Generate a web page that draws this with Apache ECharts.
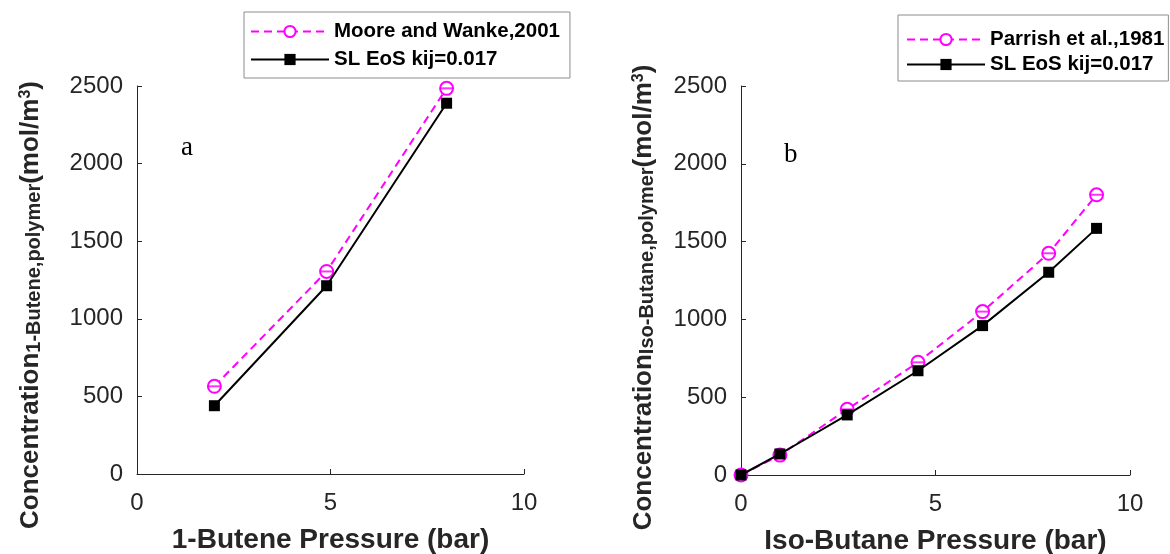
<!DOCTYPE html>
<html><head><meta charset="utf-8">
<script src="https://cdn.jsdelivr.net/npm/echarts@6/dist/echarts.min.js"></script>
<style>html,body{margin:0;padding:0;background:#fff}#c{width:1170px;height:554px}</style>
</head><body><div id="c"></div>
<script>
// ---- data ----
const butenePressure = [2, 4.9, 8];
const buteneExp = [565, 1305, 2485];
const buteneSL = [440, 1213, 2389];
const isoPressure = [0, 1, 2.73, 4.55, 6.21, 7.91, 9.14];
const isoExp = [0, 128, 422, 724, 1050, 1425, 1801];
const isoSL = [0, 135, 386, 670, 960, 1303, 1585];
const xTickValues = [0, 5, 10];
const yTickValues = [0, 500, 1000, 1500, 2000, 2500];
const expNameA = 'Moore and Wanke,2001';
const expNameB = 'Parrish et al.,1981';
const slName = 'SL EoS kij=0.017';

const pairs = (xs, ys) => xs.map((x, i) => [x, ys[i]]);
const AX = '#262626', MAG = '#ff00ff';
const FONT = 'Arial, "Liberation Sans", sans-serif';

function xAxis(gi, title) {
  return {
    type: 'value', gridIndex: gi,
    min: xTickValues[0], max: xTickValues[xTickValues.length - 1],
    interval: xTickValues[1] - xTickValues[0],
    axisLine: {lineStyle: {color: AX, width: 1}},
    axisTick: {inside: true, length: 5, lineStyle: {color: AX}},
    splitLine: {show: false},
    axisLabel: {color: AX, fontSize: 24, fontFamily: FONT, margin: 17, formatter: v => String(v)},
    name: title, nameLocation: 'middle', nameGap: 52,
    nameTextStyle: {color: AX, fontSize: 28, fontWeight: 'bold', fontFamily: FONT}
  };
}
function yAxis(gi, sub, gap, pad) {
  return {
    type: 'value', gridIndex: gi,
    min: yTickValues[0], max: yTickValues[yTickValues.length - 1],
    interval: yTickValues[1] - yTickValues[0],
    axisLine: {show: true, lineStyle: {color: AX, width: 1}},
    axisTick: {show: true, inside: true, length: 5, lineStyle: {color: AX}},
    splitLine: {show: false},
    axisLabel: {color: AX, fontSize: 24, fontFamily: FONT, margin: 14, formatter: v => String(v)},
    name: '{m|Concentration}{s|' + sub + '}{m|(mol/m}{p|3}{m|)}',
    nameLocation: 'middle', nameGap: gap,
    nameTextStyle: {
      color: AX, padding: [0, pad, 0, 0],
      rich: {
        m: {fontSize: 26, fontWeight: 'bold', fontFamily: FONT, color: AX, lineHeight: 26, verticalAlign: 'bottom'},
        s: {fontSize: 20, fontWeight: 'bold', fontFamily: FONT, color: AX, lineHeight: 6, verticalAlign: 'bottom'},
        p: {fontSize: 16, fontWeight: 'bold', fontFamily: FONT, color: AX, lineHeight: 16, verticalAlign: 'top'}
      }
    }
  };
}
function expSeries(name, gi, xs, ys) {
  return [{
    name: name, type: 'line', xAxisIndex: gi, yAxisIndex: gi,
    data: pairs(xs, ys),
    symbol: 'emptyCircle', symbolSize: 13,
    lineStyle: {color: MAG, width: 2, type: [8, 5]},
    itemStyle: {color: MAG, borderColor: MAG, borderWidth: 2},
    z: 2
  }, {
    name: name + ' err', type: 'scatter', xAxisIndex: gi, yAxisIndex: gi,
    data: pairs(xs, ys), symbol: 'rect', symbolSize: [13, 2],
    itemStyle: {color: MAG}, z: 3, silent: true
  }];
}
function slSeries(gi, xs, ys) {
  return {
    name: slName, type: 'line', xAxisIndex: gi, yAxisIndex: gi,
    data: pairs(xs, ys),
    symbol: 'rect', symbolSize: 11,
    lineStyle: {color: '#000', width: 2},
    itemStyle: {color: '#000'},
    z: 4
  };
}
const legendText = {color: '#000', fontSize: 20.5, fontWeight: 'bold', fontFamily: FONT, lineHeight: 20};

const option = {
  animation: false,
  backgroundColor: '#fff',
  grid: [
    {left: 137, right: 646, top: 86, bottom: 80, outerBoundsMode: 'none', containLabel: false},
    {left: 741, right: 40, top: 86, bottom: 79, outerBoundsMode: 'none', containLabel: false}
  ],
  xAxis: [xAxis(0, '1-Butene Pressure (bar)'), xAxis(1, 'Iso-Butane Pressure (bar)')],
  yAxis: [yAxis(0, '1-Butene,polymer', 93, 50), yAxis(1, 'Iso-Butane,polymer', 84, 34)],
  legend: [{
    orient: 'vertical', left: 244, top: 12,
    data: [expNameA, slName],
    itemWidth: 78, itemHeight: 14, itemGap: 7,
    padding: [9, 10, 8, 6],
    borderColor: '#8c8c8c', borderWidth: 1,
    textStyle: legendText
  }, {
    orient: 'vertical', left: 898, top: 15,
    data: [expNameB, slName],
    itemWidth: 78, itemHeight: 14, itemGap: 4,
    padding: [14, 4, 6, 8],
    borderColor: '#8c8c8c', borderWidth: 1,
    textStyle: legendText
  }],
  graphic: [
    {type: 'text', left: 181, top: 134, style: {text: 'a', font: '27px "Liberation Serif", "Times New Roman", serif', fill: '#000'}},
    {type: 'text', left: 784, top: 141, style: {text: 'b', font: '27px "Liberation Serif", "Times New Roman", serif', fill: '#000'}}
  ],
  series: [
    ...expSeries(expNameA, 0, butenePressure, buteneExp),
    slSeries(0, butenePressure, buteneSL),
    ...expSeries(expNameB, 1, isoPressure, isoExp),
    slSeries(1, isoPressure, isoSL)
  ]
};
const chart = echarts.init(document.getElementById('c'), null, {renderer: 'canvas'});
chart.setOption(option);
</script></body></html>
